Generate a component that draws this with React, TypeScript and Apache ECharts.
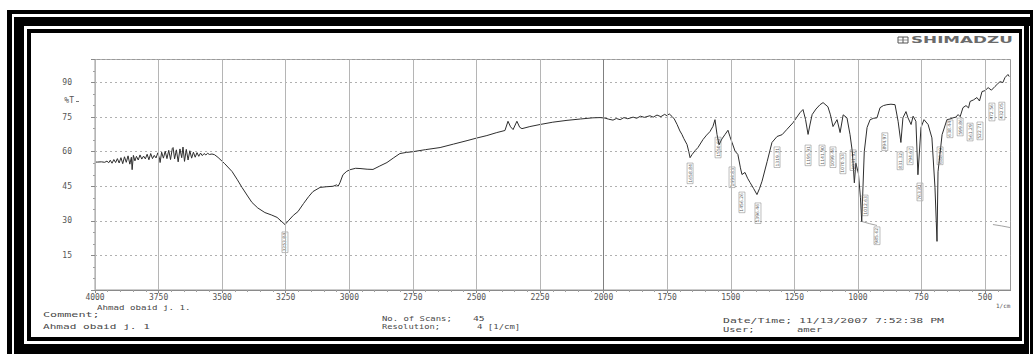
import React, { useEffect, useRef } from "react";
import * as echarts from "echarts";

// ---- axis values ----
const xLabelValues = [4000, 3750, 3500, 3250, 3000, 2750, 2500, 2250, 2000, 1750, 1500, 1250, 1000, 750, 500];
const xMinorValues = [3950, 3900, 3850, 3800, 3700, 3650, 3600, 3550, 3450, 3400, 3350, 3300, 3200, 3150, 3100, 3050, 2950, 2900, 2850, 2800, 2700, 2650, 2600, 2550, 2450, 2400, 2350, 2300, 2200, 2150, 2100, 2050, 1950, 1900, 1850, 1800, 1700, 1650, 1600, 1550, 1450, 1400, 1350, 1300, 1200, 1150, 1100, 1050, 950, 900, 850, 800, 700, 650, 600, 550, 450];
const yTickLabels = [15, 30, 45, 60, 75, 90];

// ---- spectrum (%T vs wavenumber, 1/cm) ----
const noisyRegion: [number, number][] = [
  [4000, 55.5], [3990, 55.5], [3975, 55.6], [3962, 55.4], [3953, 55.9], [3946, 55.2], [3940, 56.3], [3933, 55.0],
  [3926, 56.6], [3919, 55.3], [3912, 57.0], [3905, 55.1], [3898, 57.4], [3891, 54.8], [3884, 57.8], [3877, 55.4],
  [3870, 58.2], [3863, 54.6], [3857, 57.6], [3854, 52.2], [3849, 58.4], [3843, 56.0], [3837, 58.0], [3830, 56.4],
  [3823, 58.6], [3816, 56.8], [3809, 58.1], [3802, 56.9], [3795, 58.9], [3788, 56.5], [3781, 59.2], [3774, 57.0],
  [3767, 58.4], [3760, 57.3], [3753, 59.5], [3746, 56.8], [3744, 55.3], [3738, 59.8], [3731, 57.2], [3724, 60.2],
  [3717, 57.0], [3710, 60.6], [3703, 56.6], [3696, 61.4], [3693, 61.8], [3687, 56.9], [3680, 60.8], [3673, 55.6],
  [3666, 61.2], [3659, 57.4], [3654, 62.0], [3648, 55.8], [3641, 61.0], [3634, 56.4], [3627, 60.4], [3620, 57.2],
  [3613, 59.8], [3606, 57.6], [3599, 59.6], [3592, 58.0], [3585, 59.4], [3578, 58.3], [3571, 59.2], [3564, 58.6],
  [3557, 59.3], [3550, 58.8], [3540, 59.0]
];
const broadRegion: [number, number][] = [
  [3530, 58.7], [3516, 57.5], [3490, 54.8], [3461, 51.4], [3440, 47.8], [3422, 44.5], [3400, 40.8], [3383, 38.0],
  [3360, 35.6], [3332, 33.6], [3305, 32.5], [3284, 31.5], [3265, 29.6], [3253, 28.4], [3240, 30.0], [3220, 32.4],
  [3202, 34.0], [3180, 37.5], [3160, 40.5], [3143, 42.7], [3115, 44.5], [3090, 44.8], [3064, 45.0], [3050, 45.6],
  [3044, 45.0], [3037, 46.5], [3025, 50.0], [3010, 51.5], [2997, 52.2], [2975, 52.8], [2958, 52.7], [2930, 52.4],
  [2907, 52.3], [2880, 53.8], [2852, 55.3], [2825, 57.4], [2801, 59.2], [2775, 59.7], [2750, 60.0], [2700, 60.9],
  [2643, 61.8], [2590, 63.3], [2537, 64.8], [2500, 65.9], [2459, 67.0], [2420, 68.3], [2388, 69.2], [2376, 73.2],
  [2366, 70.8], [2356, 69.6], [2341, 73.2], [2330, 70.6], [2321, 70.0], [2290, 70.9], [2250, 71.8], [2200, 72.8],
  [2144, 73.6], [2090, 74.2], [2042, 74.7], [2014, 74.8], [1995, 74.6], [1980, 74.1], [1963, 73.7], [1950, 74.4],
  [1935, 73.9], [1920, 74.8], [1905, 74.3], [1884, 75.0], [1870, 74.5], [1855, 75.4], [1840, 74.9], [1818, 75.6],
  [1805, 75.0], [1790, 75.9], [1775, 75.2], [1760, 76.2], [1751, 75.6], [1742, 76.4], [1731, 75.3], [1722, 74.2]
];
const fingerprintRegion: [number, number][] = [
  [1711, 71.8], [1700, 69.0], [1692, 67.5], [1685, 65.8], [1672, 63.1], [1665, 60.0], [1660, 57.4], [1652, 58.8],
  [1640, 60.5], [1629, 61.8], [1609, 65.3], [1595, 67.2], [1582, 68.7], [1570, 71.0], [1562, 73.9], [1554, 67.4],
  [1546, 63.0], [1535, 65.5], [1523, 67.4], [1511, 69.3], [1503, 66.5], [1495, 64.0], [1483, 60.2], [1472, 58.8],
  [1462, 53.0], [1456, 50.1], [1444, 51.0], [1434, 48.5], [1424, 46.6], [1410, 44.0], [1397, 41.4], [1387, 44.0],
  [1377, 47.2], [1357, 55.7], [1338, 64.0], [1318, 66.6], [1298, 67.4], [1279, 69.7], [1255, 72.6], [1240, 75.0],
  [1228, 76.9], [1216, 78.3], [1206, 74.0], [1196, 67.5], [1188, 72.0], [1180, 76.1], [1165, 78.5], [1149, 80.4],
  [1137, 81.3], [1118, 79.5], [1108, 76.0], [1098, 70.9], [1082, 73.9], [1070, 68.3], [1058, 76.0], [1043, 74.7],
  [1031, 67.4], [1022, 60.0], [1014, 46.5], [1008, 55.0], [998, 50.5], [990, 40.0], [985, 29.7], [980, 45.0],
  [975, 60.0], [964, 70.5], [952, 73.9], [938, 74.5], [925, 74.7], [913, 79.1], [900, 80.0], [886, 80.4],
  [870, 80.6], [854, 80.4], [842, 73.2], [831, 64.0], [823, 74.7], [811, 77.4], [803, 74.7], [791, 71.8],
  [783, 75.4], [772, 73.2], [764, 50.0], [752, 70.5], [740, 73.9], [724, 71.8], [709, 66.0], [697, 44.5],
  [689, 21.1], [685, 51.3], [669, 67.4], [650, 73.9], [638, 74.2], [626, 74.7], [615, 75.0], [606, 76.1],
  [598, 75.2], [587, 79.1], [575, 80.0], [565, 79.0], [559, 81.8], [545, 82.5], [532, 83.5], [522, 82.0],
  [512, 86.1], [500, 86.5], [488, 87.8], [475, 86.7], [461, 88.3], [450, 89.5], [441, 90.4], [430, 90.0],
  [422, 92.1], [410, 93.5], [405, 92.6]
];
// faint second-trace fragments visible on the scan
const ghostSegmentA: [number, number][] = [[984, 29.7], [955, 28.8], [925, 28.0]];
const ghostSegmentB: [number, number][] = [[469, 28.4], [435, 27.8], [402, 27.1]];

// ---- peak labels (wavenumber, %T at top of label, text) ----
const peakWn = [3253, 1660, 1550, 1495, 1456, 1393, 1318, 1196, 1141, 1098, 1059, 1019, 972, 925, 894, 834, 795, 756, 677, 638, 598, 559, 520, 473, 434];
const peakLabelT = [25.4, 55.3, 66.5, 53.6, 42.7, 38.0, 62.3, 63.1, 63.1, 62.3, 59.6, 61.0, 41.4, 27.6, 68.4, 60.1, 62.3, 46.6, 62.3, 74.0, 74.8, 72.6, 73.1, 81.3, 81.7];
const peakText = ["3253.84", "1658.84", "1550.82", "1494.83", "1456.26", "1396.46", "1319.31", "1195.91", "1141.90", "1099.46", "1070.53", "1031.92", "1012.63", "985.62", "894.97", "831.32", "794.67", "763.81", "688.59", "638.44", "599.86", "561.29", "522.71", "472.56", "432.05"];

export default function App() {
  const ref = useRef<HTMLDivElement>(null);
  useEffect(() => {
    const chart = echarts.init(ref.current!, null, { renderer: "svg" });
    const mono = "DejaVu Sans Mono";
    const spectrum = [...noisyRegion, ...broadRegion, ...fingerprintRegion];
    const box = (x: number, y: number, w: number, h: number) => ({
      type: "rect", silent: true, shape: { x, y, width: w, height: h }, style: { fill: "#000" }
    });
    const txt = (x: number, y: number, text: string, sx = 1, size = 7.5, color = "#4a4a4a", align = "left") => ({
      type: "text", x, y, scaleX: sx, silent: true,
      style: {
        text, fontSize: size, fontFamily: mono, fill: color,
        align, verticalAlign: "middle", textAlign: align, textVerticalAlign: "middle"
      }
    });
    chart.setOption({
      animation: false,
      backgroundColor: "#fff",
      grid: { left: 95, right: 22.5, top: 59.5, bottom: 64, show: true, borderColor: "#9a9a9a", borderWidth: 1, backgroundColor: "transparent" },
      xAxis: [
        {
          type: "value", inverse: true, min: 400, max: 4000,
          axisLine: { show: true, onZero: false, lineStyle: { color: "#8a8a8a" } },
          axisTick: { show: true, length: 3, customValues: xLabelValues, lineStyle: { color: "#8a8a8a" } },
          axisLabel: {
            margin: 3, fontSize: 8, fontFamily: mono, color: "#555", customValues: xLabelValues,
            formatter: (v: number) => String(v)
          },
          splitLine: { show: false }
        },
        {
          type: "value", inverse: true, min: 400, max: 4000, position: "bottom",
          axisLine: { show: false },
          axisTick: { show: true, length: 2, customValues: xMinorValues, lineStyle: { color: "#a0a0a0" } },
          axisLabel: { show: false, customValues: xMinorValues },
          splitLine: { show: false }
        }
      ],
      yAxis: {
        type: "value", min: 0, max: 100, interval: 15,
        axisLine: { show: true, lineStyle: { color: "#8a8a8a" } },
        axisTick: { show: true, length: 4, lineStyle: { color: "#8a8a8a" } },
        minorTick: { show: true, splitNumber: 3, length: 2, lineStyle: { color: "#a0a0a0" } },
        axisLabel: {
          margin: 23, fontSize: 8, fontFamily: mono, color: "#555",
          formatter: (v: number) => (yTickLabels.indexOf(v) >= 0 ? String(v) : "")
        },
        splitLine: { show: true, lineStyle: { color: "#b0b0b0", type: [2, 3], width: 1 } }
      },
      series: [
        {
          name: "gridlines", type: "line", data: [], z: 1, silent: true,
          markLine: {
            silent: true, symbol: ["none", "none"], label: { show: false },
            lineStyle: { color: "#b5b5b5", width: 1, type: "solid" },
            data: xLabelValues.map((v) => ({ xAxis: v, lineStyle: { color: v === 2000 ? "#808080" : "#b5b5b5", width: 1, type: "solid" } }))
          }
        },
        {
          name: "ghostA", type: "line", data: ghostSegmentA, symbol: "none", silent: true, z: 2,
          lineStyle: { color: "#8a8a8a", width: 0.8 }
        },
        {
          name: "ghostB", type: "line", data: ghostSegmentB, symbol: "none", silent: true, z: 2,
          lineStyle: { color: "#8a8a8a", width: 0.8 }
        },
        {
          name: "%T", type: "line", data: spectrum, symbol: "none", silent: true, z: 3,
          lineStyle: { color: "#2e2e2e", width: 1 }
        },
        {
          name: "peaks", type: "scatter", z: 4, silent: true, symbolSize: 1,
          itemStyle: { color: "rgba(0,0,0,0)" },
          data: peakWn.map((w, i) => [w, peakLabelT[i]]),
          label: {
            show: true, position: "bottom", distance: 0, rotate: 90, align: "right", verticalAlign: "middle",
            fontSize: 4.5, fontFamily: "DejaVu Sans", color: "#333",
            borderColor: "#777", borderWidth: 0.6, padding: [0.5, 1],
            formatter: (p: any) => peakText[p.dataIndex]
          }
        }
      ],
      graphic: [
        // outer thin line
        box(7, 10, 1026, 4), box(7, 10, 5, 344), box(1030, 10, 3, 344),
        // thick band
        box(14, 17, 1019, 9), box(14, 17, 10, 337), box(1024, 17, 5, 337), box(14, 344, 1015, 10),
        // inner thin line
        box(27, 29, 995, 4), box(27, 29, 4, 312), box(1019, 29, 3, 312), box(27, 337, 995, 4),
        // SHIMADZU logo
        { type: "rect", silent: true, shape: { x: 898, y: 37, width: 10, height: 6 }, style: { fill: "none", stroke: "#555", lineWidth: 1 } },
        { type: "line", silent: true, shape: { x1: 903, y1: 37, x2: 903, y2: 43 }, style: { stroke: "#555", lineWidth: 1 } },
        { type: "line", silent: true, shape: { x1: 898, y1: 40, x2: 908, y2: 40 }, style: { stroke: "#777", lineWidth: 0.8 } },
        { type: "text", x: 911, y: 40.5, scaleX: 2.1, silent: true, style: { text: "SHIMADZU", fontSize: 8, fontWeight: "bold", fontFamily: "DejaVu Sans", fill: "#6a6a6a", align: "left", verticalAlign: "middle", textAlign: "left", textVerticalAlign: "middle" } },
        // %T marker
        txt(74, 100, "%T", 1, 8, "#555", "right"),
        { type: "line", silent: true, shape: { x1: 76, y1: 101.5, x2: 79, y2: 101.5 }, style: { stroke: "#777", lineWidth: 1 } },
        txt(996, 305, "1/cm", 1, 6, "#555"),
        // footer
        txt(97, 307, "Ahmad obaid j. 1.", 1.22),
        txt(43, 314.5, "Comment;", 1.57),
        txt(43, 326, "Ahmad obaid j. 1", 1.48),
        txt(382, 318.5, "No. of Scans;", 1.19),
        txt(473, 318.5, "45", 1.3),
        txt(382, 326.5, "Resolution;", 1.17),
        txt(477, 326.5, "4 [1/cm]", 1.2),
        txt(723, 320.5, "Date/Time; 11/13/2007 7:52:38 PM", 1.53),
        txt(723, 329.5, "User;", 1.4),
        txt(797, 329.5, "amer", 1.4)
      ]
    });
    return () => chart.dispose();
  }, []);
  return <div ref={ref} style={{ position: "absolute", left: 0, top: 0, width: 1033, height: 354, background: "#fff" }} />;
}
